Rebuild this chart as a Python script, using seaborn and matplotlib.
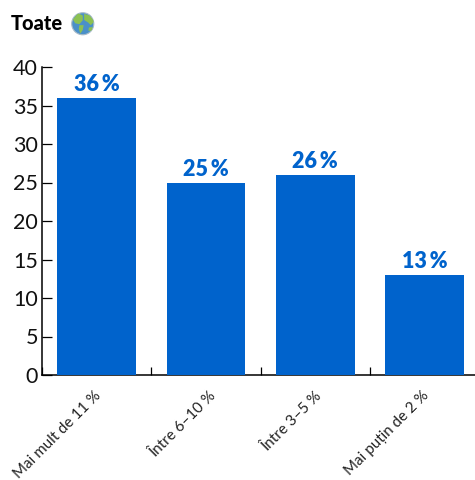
import matplotlib
matplotlib.use("Agg")
import matplotlib.pyplot as plt
from matplotlib.patches import Circle, Polygon
from matplotlib.transforms import ScaledTranslation
import pandas as pd
import seaborn as sns

categories = ["Mai mult de 11 %", "Între 6–10 %", "Între 3–5 %", "Mai puțin de 2 %"]
values = [36, 25, 26, 13]
value_labels = ["36\u2009%", "25\u2009%", "26\u2009%", "13\u2009%"]
y_ticks = [0, 5, 10, 15, 20, 25, 30, 35, 40]

BLUE = "#0063cc"
W, H = 475, 480

sns.set_style("white")
plt.rcParams["font.family"] = ["Lato", "Open Sans", "DejaVu Sans"]

df = pd.DataFrame({"categorie": categories, "valoare": values})

fig = plt.figure(figsize=(W / 100, H / 100), dpi=100)
ax = fig.add_axes([42 / W, 1 - 375 / H, (W - 42) / W, (375 - 67) / H])

sns.barplot(data=df, x="categorie", y="valoare", color=BLUE, saturation=1,
            width=0.72, linewidth=0, ax=ax)

ax.set_xlim(-0.5, 3.46)
ax.set_ylim(0, 40)
ax.set_xlabel("")
ax.set_ylabel("")
sns.despine(ax=ax)
for side in ["left", "bottom"]:
    ax.spines[side].set_color("black")
    ax.spines[side].set_linewidth(1.1)
    ax.spines[side].set_zorder(0.5)

ax.set_yticks(y_ticks)
ax.tick_params(axis="y", direction="in", length=7.5, width=0.9, color="black",
               labelsize=15.5, pad=3, left=True, labelcolor="#111111")

# ticks between the bars, labels under the bars
ax.set_xticks([-0.5, 0.5, 1.5, 2.5])
ax.set_xticklabels([])
ax.tick_params(axis="x", which="major", direction="in", length=5.8, width=0.9,
               color="black", bottom=True)
ax.set_xticks(range(len(categories)), minor=True)
ax.set_xticklabels(categories, minor=True, rotation=45, ha="right",
                   rotation_mode="anchor", fontsize=10.9, color="#222222")
ax.tick_params(axis="x", which="minor", length=0, pad=10)
# the reference labels do not sit evenly under the bars
nudges_px = [-3, 3, -1, -3]
for lab, dx in zip(ax.get_xticklabels(minor=True), nudges_px):
    shift = ScaledTranslation(dx / 100, 0, fig.dpi_scale_trans)
    lab.set_transform(lab.get_transform() + shift)

for i, lab in enumerate(value_labels):
    ax.text(i, values[i] + 0.35, lab, ha="center", va="bottom", color=BLUE,
            fontsize=15.5, fontweight="heavy")

fig.text(11 / W, 1 - 23 / H, "Toate", fontsize=14.4, fontweight="black",
         color="black", va="center", ha="left")

# globe emoji, no emoji font here so it is drawn
gl = fig.add_axes([71 / W, 1 - 35.5 / H, 23.5 / W, 23.5 / H])
gl.set_xlim(0, 1)
gl.set_ylim(0, 1)
gl.axis("off")
sea = Circle((0.5, 0.5), 0.47, facecolor="#4a90c8", edgecolor="#a9bcc8", linewidth=0.8)
gl.add_patch(sea)
lands = [
    [(0.08, 0.68), (0.3, 0.95), (0.5, 0.85), (0.5, 0.65), (0.36, 0.48), (0.18, 0.52)],
    [(0.36, 0.44), (0.54, 0.44), (0.5, 0.24), (0.4, 0.08), (0.33, 0.28)],
    [(0.56, 0.92), (0.8, 0.85), (1.0, 0.6), (0.84, 0.44), (0.72, 0.56), (0.56, 0.66)],
    [(0.76, 0.34), (0.92, 0.36), (0.88, 0.2), (0.74, 0.2)],
]
for pts in lands:
    land = Polygon(pts, facecolor="#8cc152", edgecolor="none")
    gl.add_patch(land)
    land.set_clip_path(sea)

fig.savefig("out.png", dpi=100)
